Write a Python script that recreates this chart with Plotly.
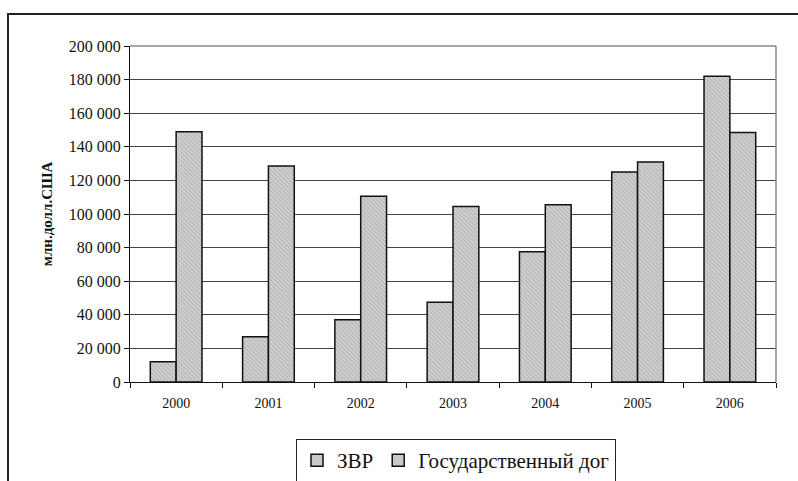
import plotly.graph_objects as go

years = ["2000", "2001", "2002", "2003", "2004", "2005", "2006"]
zvr = [12000, 27000, 37000, 47500, 77500, 125000, 182000]
gov_debt = [149000, 128500, 110500, 104500, 105500, 131000, 148500]
series_names = ["ЗВР", "Государственный дог"]
y_tickvals = [0, 20000, 40000, 60000, 80000, 100000, 120000, 140000, 160000, 180000, 200000]
y_ticktext = ["0", "20 000", "40 000", "60 000", "80 000", "100 000", "120 000",
              "140 000", "160 000", "180 000", "200 000"]
y_title = "млн.долл.США"

W, H = 798, 481
L, R, T, B = 130, 22, 46, 99
pw, ph = W - L - R, H - T - B
FONT = "Liberation Serif, Times New Roman, serif"

def px_x(x):
    return (x - L) / pw

def px_y(y):
    return (H - B - y) / ph

pattern = dict(shape="\\", size=3, solidity=0.35, fgcolor="#8a8a8a", bgcolor="#d2d2d2")

fig = go.Figure()
for name, vals in zip(series_names, [zvr, gov_debt]):
    fig.add_trace(go.Bar(
        x=years, y=vals, name=name,
        marker=dict(color="#c8c8c8", pattern=pattern,
                    line=dict(color="#111111", width=1.5)),
    ))

fig.update_layout(
    width=W, height=H,
    margin=dict(l=L, r=R, t=T, b=B, autoexpand=False),
    paper_bgcolor="white", plot_bgcolor="white",
    font=dict(family=FONT, color="#111111"),
    barmode="group", bargap=0.44, bargroupgap=0,
    showlegend=True,
    legend=dict(orientation="h", x=px_x(296), y=px_y(439), xanchor="left", yanchor="top",
                bordercolor="#222222", borderwidth=1, bgcolor="white",
                font=dict(size=21, family=FONT),
                itemwidth=30, traceorder="normal"),
    xaxis=dict(type="category", showline=True, linecolor="#111111", linewidth=1,
               ticks="outside", tickson="boundaries", ticklen=5, tickcolor="#111111",
               ticklabelstandoff=8,
               tickfont=dict(size=14, family=FONT), showgrid=False),
    yaxis=dict(range=[0, 200000], tickvals=y_tickvals, ticktext=y_ticktext,
               showline=True, linecolor="#111111", linewidth=1,
               ticks="outside", ticklen=5, tickcolor="#111111",
               tickfont=dict(size=16, family=FONT),
               showgrid=True, gridcolor="#444444", gridwidth=1, zeroline=False,
               title=dict(text="<b>" + y_title + "</b>", font=dict(size=15, family=FONT),
                          standoff=12)),
    shapes=[
        dict(type="rect", xref="paper", yref="paper",
             x0=px_x(8), x1=px_x(805), y0=px_y(490), y1=px_y(14),
             line=dict(color="#222222", width=2), fillcolor="rgba(0,0,0,0)", layer="below"),
        dict(type="line", xref="paper", yref="paper", x0=0, x1=1, y0=1, y1=1,
             line=dict(color="#888888", width=1.5)),
        dict(type="line", xref="paper", yref="paper", x0=1, x1=1, y0=0, y1=1,
             line=dict(color="#888888", width=1.5)),
    ],
)

fig.write_html("out.html", config={"displayModeBar": False},
               post_script="document.body.style.margin='0';document.body.style.overflow='hidden';")
